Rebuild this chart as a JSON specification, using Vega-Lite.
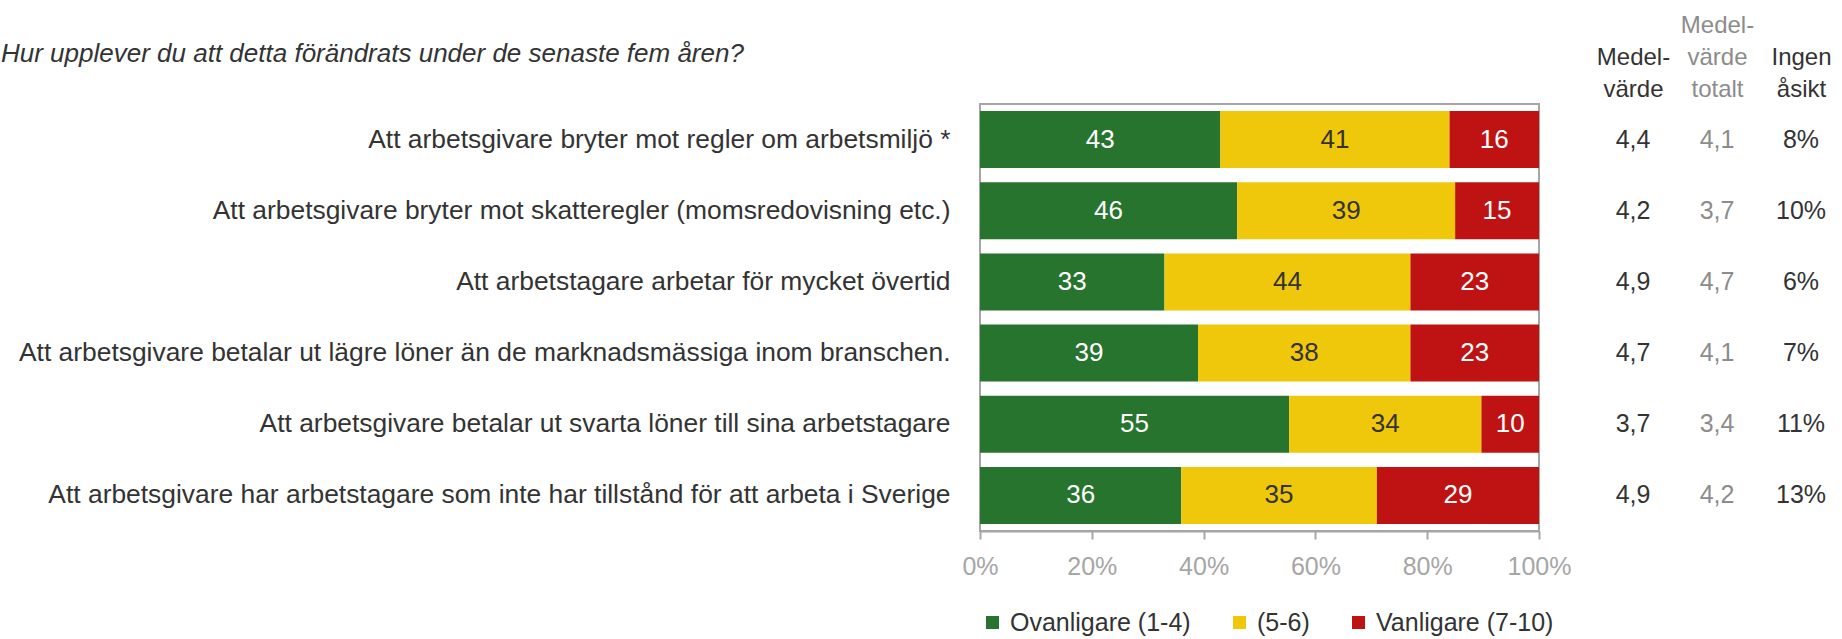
{
  "$schema": "https://vega.github.io/schema/vega-lite/v6.json",
  "autosize": {"type": "pad"},
  "padding": {"left": 0, "top": 13, "right": 0, "bottom": 0},
  "bounds": "flush",
  "spacing": 52,
  "config": {
    "font": "Liberation Sans",
    "view": {"stroke": "#a6a6a6", "strokeWidth": 2},
    "axis": {"grid": false, "labelFont": "Liberation Sans"},
    "legend": {
      "orient": "none", "legendX": 0, "legendY": 506, "direction": "horizontal",
      "symbolType": "square", "symbolSize": 169, "symbolStrokeWidth": 0, "symbolOpacity": 1,
      "labelFontSize": 25, "labelColor": "#333333", "labelFont": "Liberation Sans", "labelLimit": 500,
      "labelOffset": 5, "columnPadding": 36, "padding": 0, "gridAlign": "none"
    }
  },
  "datasets": {
    "bars": [
      {"item": "Att arbetsgivare bryter mot regler om arbetsmiljö *", "cat": "Ovanligare (1-4)", "order": 1, "value": 43},
      {"item": "Att arbetsgivare bryter mot regler om arbetsmiljö *", "cat": "(5-6)", "order": 2, "value": 41},
      {"item": "Att arbetsgivare bryter mot regler om arbetsmiljö *", "cat": "Vanligare (7-10)", "order": 3, "value": 16},
      {"item": "Att arbetsgivare bryter mot skatteregler (momsredovisning etc.)", "cat": "Ovanligare (1-4)", "order": 1, "value": 46},
      {"item": "Att arbetsgivare bryter mot skatteregler (momsredovisning etc.)", "cat": "(5-6)", "order": 2, "value": 39},
      {"item": "Att arbetsgivare bryter mot skatteregler (momsredovisning etc.)", "cat": "Vanligare (7-10)", "order": 3, "value": 15},
      {"item": "Att arbetstagare arbetar för mycket övertid", "cat": "Ovanligare (1-4)", "order": 1, "value": 33},
      {"item": "Att arbetstagare arbetar för mycket övertid", "cat": "(5-6)", "order": 2, "value": 44},
      {"item": "Att arbetstagare arbetar för mycket övertid", "cat": "Vanligare (7-10)", "order": 3, "value": 23},
      {"item": "Att arbetsgivare betalar ut lägre löner än de marknadsmässiga inom branschen.", "cat": "Ovanligare (1-4)", "order": 1, "value": 39},
      {"item": "Att arbetsgivare betalar ut lägre löner än de marknadsmässiga inom branschen.", "cat": "(5-6)", "order": 2, "value": 38},
      {"item": "Att arbetsgivare betalar ut lägre löner än de marknadsmässiga inom branschen.", "cat": "Vanligare (7-10)", "order": 3, "value": 23},
      {"item": "Att arbetsgivare betalar ut svarta löner till sina arbetstagare", "cat": "Ovanligare (1-4)", "order": 1, "value": 55.3},
      {"item": "Att arbetsgivare betalar ut svarta löner till sina arbetstagare", "cat": "(5-6)", "order": 2, "value": 34.4},
      {"item": "Att arbetsgivare betalar ut svarta löner till sina arbetstagare", "cat": "Vanligare (7-10)", "order": 3, "value": 10.3},
      {"item": "Att arbetsgivare har arbetstagare som inte har tillstånd för att arbeta i Sverige", "cat": "Ovanligare (1-4)", "order": 1, "value": 36},
      {"item": "Att arbetsgivare har arbetstagare som inte har tillstånd för att arbeta i Sverige", "cat": "(5-6)", "order": 2, "value": 35},
      {"item": "Att arbetsgivare har arbetstagare som inte har tillstånd för att arbeta i Sverige", "cat": "Vanligare (7-10)", "order": 3, "value": 29}
    ],
    "cols": [
      {"item": "Att arbetsgivare bryter mot regler om arbetsmiljö *", "col": "Medel-|värde", "txt": "4,4"},
      {"item": "Att arbetsgivare bryter mot regler om arbetsmiljö *", "col": "Medel-|värde|totalt", "txt": "4,1"},
      {"item": "Att arbetsgivare bryter mot regler om arbetsmiljö *", "col": "Ingen|åsikt", "txt": "8%"},
      {"item": "Att arbetsgivare bryter mot skatteregler (momsredovisning etc.)", "col": "Medel-|värde", "txt": "4,2"},
      {"item": "Att arbetsgivare bryter mot skatteregler (momsredovisning etc.)", "col": "Medel-|värde|totalt", "txt": "3,7"},
      {"item": "Att arbetsgivare bryter mot skatteregler (momsredovisning etc.)", "col": "Ingen|åsikt", "txt": "10%"},
      {"item": "Att arbetstagare arbetar för mycket övertid", "col": "Medel-|värde", "txt": "4,9"},
      {"item": "Att arbetstagare arbetar för mycket övertid", "col": "Medel-|värde|totalt", "txt": "4,7"},
      {"item": "Att arbetstagare arbetar för mycket övertid", "col": "Ingen|åsikt", "txt": "6%"},
      {"item": "Att arbetsgivare betalar ut lägre löner än de marknadsmässiga inom branschen.", "col": "Medel-|värde", "txt": "4,7"},
      {"item": "Att arbetsgivare betalar ut lägre löner än de marknadsmässiga inom branschen.", "col": "Medel-|värde|totalt", "txt": "4,1"},
      {"item": "Att arbetsgivare betalar ut lägre löner än de marknadsmässiga inom branschen.", "col": "Ingen|åsikt", "txt": "7%"},
      {"item": "Att arbetsgivare betalar ut svarta löner till sina arbetstagare", "col": "Medel-|värde", "txt": "3,7"},
      {"item": "Att arbetsgivare betalar ut svarta löner till sina arbetstagare", "col": "Medel-|värde|totalt", "txt": "3,4"},
      {"item": "Att arbetsgivare betalar ut svarta löner till sina arbetstagare", "col": "Ingen|åsikt", "txt": "11%"},
      {"item": "Att arbetsgivare har arbetstagare som inte har tillstånd för att arbeta i Sverige", "col": "Medel-|värde", "txt": "4,9"},
      {"item": "Att arbetsgivare har arbetstagare som inte har tillstånd för att arbeta i Sverige", "col": "Medel-|värde|totalt", "txt": "4,2"},
      {"item": "Att arbetsgivare har arbetstagare som inte har tillstånd för att arbeta i Sverige", "col": "Ingen|åsikt", "txt": "13%"}
    ]
  },
  "hconcat": [
    {
      "width": 559,
      "height": 427,
      "title": {
        "text": "Hur upplever du att detta förändrats under de senaste fem åren?",
        "anchor": "start", "frame": "group", "dx": -979, "offset": 37,
        "fontSize": 26, "fontStyle": "italic", "fontWeight": "normal",
        "color": "#333333", "font": "Liberation Sans"
      },
      "data": {"name": "bars"},
      "layer": [
        {
          "mark": {"type": "bar"},
          "encoding": {
            "y": {
              "field": "item", "type": "nominal",
              "sort": [
                "Att arbetsgivare bryter mot regler om arbetsmiljö *",
                "Att arbetsgivare bryter mot skatteregler (momsredovisning etc.)",
                "Att arbetstagare arbetar för mycket övertid",
                "Att arbetsgivare betalar ut lägre löner än de marknadsmässiga inom branschen.",
                "Att arbetsgivare betalar ut svarta löner till sina arbetstagare",
                "Att arbetsgivare har arbetstagare som inte har tillstånd för att arbeta i Sverige"
              ],
              "scale": {"paddingInner": 0.2, "paddingOuter": 0.1},
              "axis": {
                "title": null, "ticks": false, "domain": false,
                "labelFontSize": 26.4, "labelColor": "#333333",
                "labelPadding": 30, "labelLimit": 1200
              }
            },
            "x": {
              "field": "value", "type": "quantitative", "stack": "zero",
              "scale": {"domain": [0, 100]},
              "axis": {
                "title": null, "values": [0, 20, 40, 60, 80, 100],
                "labelExpr": "datum.value + '%'",
                "labelFontSize": 25, "labelColor": "#a6a6a6",
                "tickColor": "#a6a6a6", "tickSize": 8, "tickWidth": 2,
                "domainColor": "#a6a6a6", "domainWidth": 2,
                "labelPadding": 15, "labelFlush": false, "labelOverlap": false
              }
            },
            "color": {
              "field": "cat", "type": "nominal",
              "scale": {
                "domain": ["Ovanligare (1-4)", "(5-6)", "Vanligare (7-10)"],
                "range": ["#26742e", "#f0c80b", "#bf1313"]
              },
              "legend": {"title": null}
            },
            "order": {"field": "order", "type": "quantitative"}
          }
        },
        {
          "transform": [
            {"stack": "value", "groupby": ["item"], "sort": [{"field": "order", "order": "ascending"}], "as": ["x0", "x1"]},
            {"fold": ["x0", "x1"], "as": ["edge", "pos"]},
            {"aggregate": [{"op": "mean", "field": "pos", "as": "mid"}], "groupby": ["item", "cat", "value"]}
          ],
          "mark": {"type": "text", "fontSize": 26, "baseline": "middle", "align": "center"},
          "encoding": {
            "y": {
              "field": "item", "type": "nominal",
              "sort": [
                "Att arbetsgivare bryter mot regler om arbetsmiljö *",
                "Att arbetsgivare bryter mot skatteregler (momsredovisning etc.)",
                "Att arbetstagare arbetar för mycket övertid",
                "Att arbetsgivare betalar ut lägre löner än de marknadsmässiga inom branschen.",
                "Att arbetsgivare betalar ut svarta löner till sina arbetstagare",
                "Att arbetsgivare har arbetstagare som inte har tillstånd för att arbeta i Sverige"
              ]
            },
            "x": {"field": "mid", "type": "quantitative"},
            "text": {"field": "value", "type": "quantitative", "format": ".0f"},
            "color": {"condition": {"test": "datum.cat == '(5-6)'", "value": "#333333"}, "value": "#ffffff"}
          }
        }
      ]
    },
    {
      "width": 252,
      "height": 427,
      "view": {"stroke": null},
      "data": {"name": "cols"},
      "mark": {"type": "text", "fontSize": 25, "baseline": "middle", "align": "center"},
      "encoding": {
        "y": {
          "field": "item", "type": "nominal",
          "sort": [
            "Att arbetsgivare bryter mot regler om arbetsmiljö *",
            "Att arbetsgivare bryter mot skatteregler (momsredovisning etc.)",
            "Att arbetstagare arbetar för mycket övertid",
            "Att arbetsgivare betalar ut lägre löner än de marknadsmässiga inom branschen.",
            "Att arbetsgivare betalar ut svarta löner till sina arbetstagare",
            "Att arbetsgivare har arbetstagare som inte har tillstånd för att arbeta i Sverige"
          ],
          "scale": {"paddingInner": 0.2, "paddingOuter": 0.1},
          "axis": null
        },
        "x": {
          "field": "col", "type": "nominal",
          "sort": ["Medel-|värde", "Medel-|värde|totalt", "Ingen|åsikt"],
          "scale": {"paddingInner": 0, "paddingOuter": 0},
          "axis": {
            "orient": "top", "title": null, "ticks": false, "tickSize": 0, "domain": false,
            "labelAngle": 0,
            "labelExpr": "datum.label == 'Medel-|värde|totalt' ? split(datum.label, '|') : split('|' + datum.label, '|')",
            "labelFontSize": 24, "labelLineHeight": 32, "labelPadding": 72,
            "labelBaseline": "alphabetic", "labelOverlap": false,
            "labelColor": {"condition": {"test": "datum.value == 'Medel-|värde|totalt'", "value": "#8c8c8c"}, "value": "#333333"}
          }
        },
        "text": {"field": "txt", "type": "nominal"},
        "color": {"condition": {"test": "datum.col == 'Medel-|värde|totalt'", "value": "#8c8c8c"}, "value": "#333333"}
      }
    }
  ]
}
